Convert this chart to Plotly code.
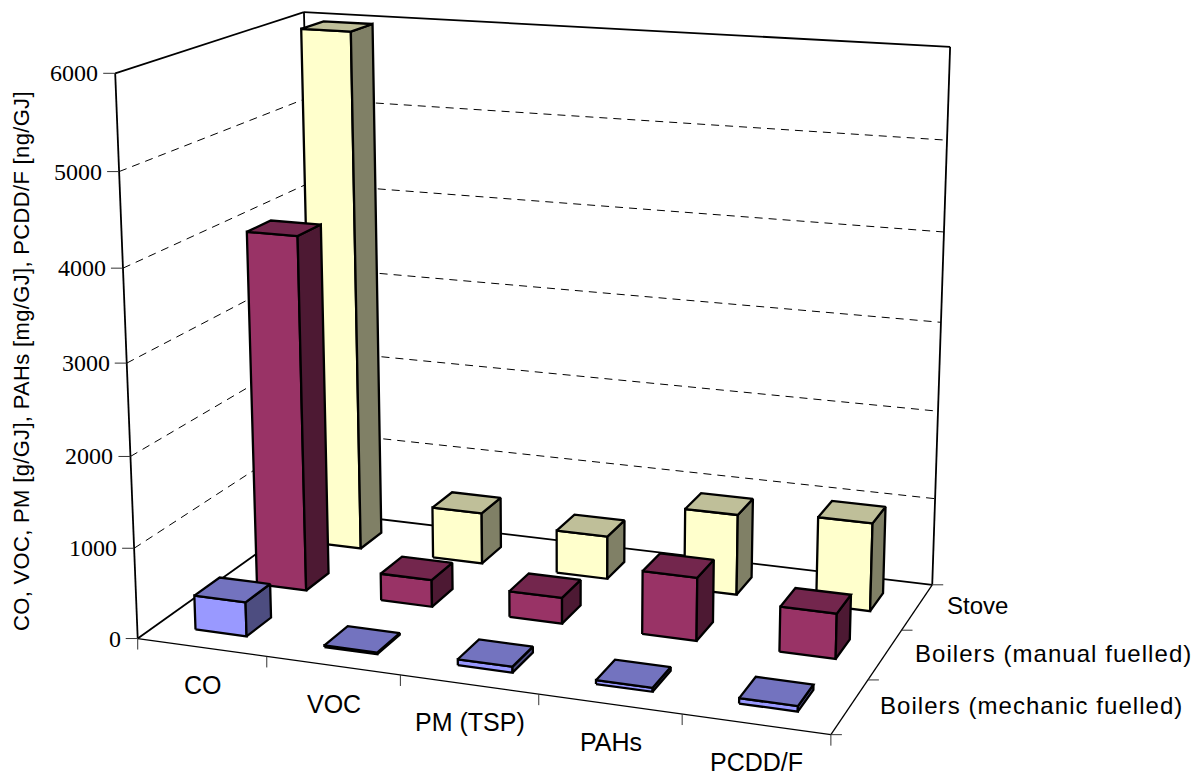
import numpy as np
import plotly.graph_objects as go

W, H = 1203, 776
categories = ["CO", "VOC", "PM (TSP)", "PAHs", "PCDD/F"]
series_names = ["Boilers (mechanic fuelled)", "Boilers (manual fuelled)", "Stove"]
mechanic = [380, 18, 65, 42, 58]
manual = [4000, 305, 290, 700, 495]
stove = [5980, 595, 495, 918, 995]
z_ticks = [0, 1000, 2000, 3000, 4000, 5000, 6000]
axis_title = "CO, VOC, PM [g/GJ], PAHs [mg/GJ], PCDD/F [ng/GJ]"

# Where points of the axis box (category, series, value/1000) sit on the page;
# a least-squares camera matrix is solved from them.
box = [((0,0,0),(138,639)),((1,0,0),(266,657)),((2,0,0),(400,676)),((3,0,0),(539,695)),((4,0,0),(682,715)),((5,0,0),(831,733)),
 ((5,1,0),(868,679)),((5,2,0),(902,631)),((5,3,0),(932,585)),
 ((0,0,1),(134,547)),((0,0,2),(131,456)),((0,0,3),(127,362)),((0,0,4),(123,268)),((0,0,5),(119,172)),((0,0,6),(115,74)),
 ((0,3,6),(304,12)),((5,3,6),(950,44)),((5,3,5),(947,142)),((5,3,4),(944,234)),((5,3,3),(941,324)),((5,3,2),(938,410)),((5,3,1),(935,497))]
A = []
for (x,y,z),(u,v) in box:
    u,v = u/1000, v/1000
    A.append([x,y,z,1,0,0,0,0,-u*x,-u*y,-u*z,-u])
    A.append([0,0,0,0,x,y,z,1,-v*x,-v*y,-v*z,-v])
P = np.linalg.svd(np.array(A,float))[2][-1].reshape(3,4)
P = np.diag([1000,1000,1.0]) @ P

def pr(x,y,z):
    """Project a (category, series, value) point to page pixels."""
    h = P @ np.array([x,y,z/1000,1.0])
    return h[0]/h[2], h[1]/h[2]

fig = go.Figure()

def poly(pts, fill=None, color="black", width=2.3, dash=None):
    xs=[p[0] for p in pts]; ys=[p[1] for p in pts]
    fig.add_trace(go.Scatter(x=xs,y=ys,mode="lines",fill="toself" if fill else None,fillcolor=fill,
        line=dict(color=color,width=width,dash=dash),hoverinfo="skip"))

def seg(a,b,**kw):
    poly([pr(*a),pr(*b)],**kw)

# Walls and floor outline
for a,b in [((0,0,0),(5,0,0)),((5,0,0),(5,3,0))]:
    seg(a,b,width=1.3)
for a,b in [((5,3,0),(0,3,0)),((0,3,0),(0,0,0)),
            ((0,0,0),(0,0,6000)),((0,3,0),(0,3,6000)),((5,3,0),(5,3,6000)),
            ((0,0,6000),(0,3,6000)),((0,3,6000),(5,3,6000))]:
    seg(a,b,width=1.8)

# Dashed gridlines on both walls
for z in z_ticks[1:-1]:
    seg((0,0,z),(0,3,z),width=1,dash="8px,6px")
    seg((0,3,z),(5,3,z),width=1,dash="8px,6px")

# Tick marks
for z in z_ticks:
    u,v=pr(0,0,z); poly([(u,v),(u-12,v)],width=1,color="#333333")
for k in range(6):
    u,v=pr(k,0,0); poly([(u,v),(u,v+11)],width=1,color="#333333")
for j in range(4):
    u,v=pr(5,j,0); poly([(u,v),(u+11,v)],width=1,color="#333333")

# Bars, back row first so nearer rows cover it: front, side, top faces
palette = [("#9999FF","#7373BF","#4D4D80"),("#993366","#73264D","#4D1933"),("#FFFFCC","#BFBF99","#808066")]
values = [mechanic, manual, stove]
for j in (2,1,0):
    for k in range(5):
        x0,x1,y0,y1 = k+.3,k+.7,j+.3,j+.7
        v = values[j][k]
        c = palette[j]
        poly([pr(x0,y0,0),pr(x1,y0,0),pr(x1,y0,v),pr(x0,y0,v),pr(x0,y0,0)],fill=c[0])
        poly([pr(x1,y0,0),pr(x1,y1,0),pr(x1,y1,v),pr(x1,y0,v),pr(x1,y0,0)],fill=c[2])
        poly([pr(x0,y0,v),pr(x1,y0,v),pr(x1,y1,v),pr(x0,y1,v),pr(x0,y0,v)],fill=c[1])

def label(u,v,text,size,family,xanchor="center",angle=0,spacing=None):
    if spacing:
        text = f'<span style="letter-spacing:{spacing}px">{text}</span>'
    fig.add_annotation(x=u,y=v,xref="x",yref="y",text=text,showarrow=False,xanchor=xanchor,yanchor="middle",textangle=angle,
        font=dict(size=size,family=family,color="black"))

for z in z_ticks:
    u,v=pr(0,0,z); label(u-15,v,str(z),24,"Liberation Serif",xanchor="right")
for k,c in enumerate(categories):
    u,v=pr(k+.5,0,0); label(u+1,v+38,c,25,"Liberation Sans")
for j,s in enumerate(series_names):
    u,v=pr(5,j+.5,0); label(u+28,v-1,s,24,"Liberation Sans",xanchor="left",spacing=1.05 if j<2 else None)
label(21,361,axis_title,22,"Liberation Sans",angle=-90,spacing=0.33)

fig.update_layout(width=W, height=H, margin=dict(l=0,r=0,t=0,b=0), showlegend=False, paper_bgcolor="white", plot_bgcolor="white",
  xaxis=dict(range=[0,W],visible=False), yaxis=dict(range=[H,0],visible=False))
fig.write_html("out.html")
